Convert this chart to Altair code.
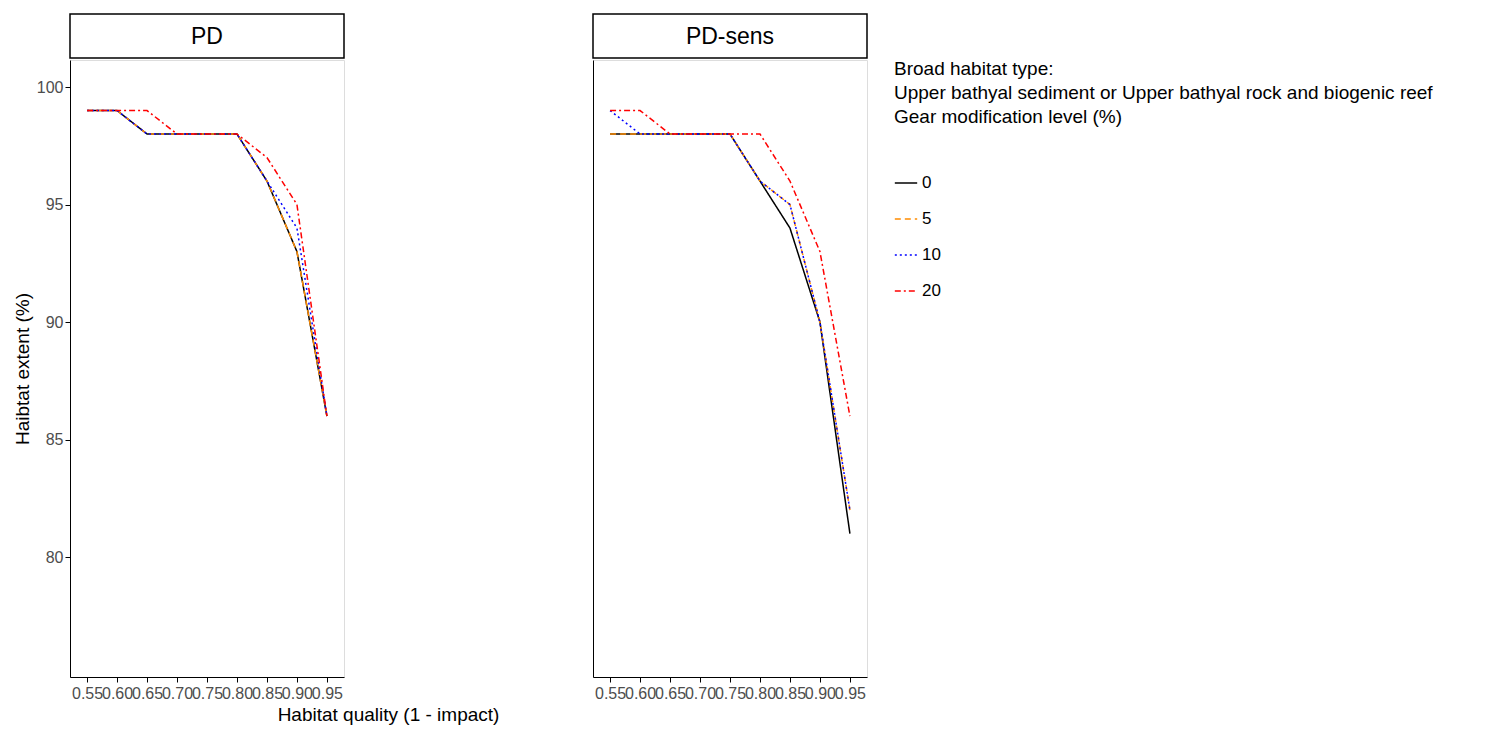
import altair as alt
import pandas as pd

quality = [0.55, 0.60, 0.65, 0.70, 0.75, 0.80, 0.85, 0.90, 0.95]
levels = ["0", "5", "10", "20"]
pd_vals = {
    "0":  [99, 99, 98, 98, 98, 98, 96, 93, 86],
    "5":  [99, 99, 98, 98, 98, 98, 96, 93, 86],
    "10": [99, 99, 98, 98, 98, 98, 96, 94, 86],
    "20": [99, 99, 99, 98, 98, 98, 97, 95, 86],
}
pdsens_vals = {
    "0":  [98, 98, 98, 98, 98, 96, 94, 90, 81],
    "5":  [98, 98, 98, 98, 98, 96, 95, 90, 82],
    "10": [99, 98, 98, 98, 98, 96, 95, 90, 82],
    "20": [99, 99, 98, 98, 98, 98, 96, 93, 86],
}

def frame(vals):
    rows = []
    for lv in levels:
        for q, v in zip(quality, vals[lv]):
            rows.append({"q": q, "v": v, "level": lv})
    return pd.DataFrame(rows)

W, H = 274, 617
legend_title = ["Broad habitat type:", "Upper bathyal sediment or Upper bathyal rock and biogenic reef", " ", "Gear modification level (%)"]
color = alt.Color("level:N", sort=levels,
                  scale=alt.Scale(domain=levels, range=["black", "darkorange", "blue", "red"]),
                  legend=alt.Legend(title=legend_title, orient="right", offset=25, padding=0,
                                    titleFontSize=19, labelFontSize=17, titleFontWeight="normal",
                                    titleColor="black", labelColor="black", symbolType="stroke",
                                    symbolSize=500, symbolStrokeWidth=1.5, rowPadding=16,
                                    titlePadding=20, titleLimit=1000, titleLineHeight=24))
dash = alt.StrokeDash("level:N", sort=levels,
                      scale=alt.Scale(domain=levels, range=[[1, 0], [6, 4], [2, 3], [6, 3, 2, 3]]),
                      legend=None)

def panel(vals, label, first):
    xax = alt.Axis(values=quality, format=".2f", title="Habitat quality (1 - impact)" if first else None,
                   titleX=318, labelFontSize=16, labelColor="#4d4d4d", titleFontSize=19,
                   titleFontWeight="normal", titleColor="black", grid=False, domainColor="black",
                   tickColor="black", labelOverlap=False, labelPadding=3, titlePadding=4)
    yax = alt.Axis(values=[80, 85, 90, 95, 100], title="Haibtat extent (%)" if first else None,
                   labels=first, labelFontSize=16, labelColor="#4d4d4d", titleFontSize=19,
                   titleFontWeight="normal", titleColor="black", grid=False,
                   domainColor="black", tickColor="black", ticks=first)
    lines = alt.Chart(frame(vals)).mark_line(strokeWidth=1.5).encode(
        x=alt.X("q:Q", scale=alt.Scale(domain=[0.5215, 0.9785], nice=False, zero=False), axis=xax),
        y=alt.Y("v:Q", scale=alt.Scale(domain=[74.9, 101.15], nice=False, zero=False), axis=yax),
        color=color, strokeDash=dash, order=alt.Order("q:Q"))
    strip_df = pd.DataFrame({"label": [label]})
    box = alt.Chart(strip_df).mark_rect(fill="white", stroke="black", strokeWidth=1.5).encode(
        x=alt.value(0), x2=alt.value(W), y=alt.value(-46), y2=alt.value(-2))
    txt = alt.Chart(strip_df).mark_text(fontSize=23, color="black").encode(
        x=alt.value(W / 2), y=alt.value(-23), text="label:N")
    return alt.layer(lines, box, txt).properties(width=W, height=H)

chart = alt.hconcat(panel(pd_vals, "PD", True), panel(pdsens_vals, "PD-sens", False), spacing=91
).configure_view(stroke="transparent", strokeWidth=0).configure(font="Liberation Sans"
).properties(padding={"top": 4, "left": 4, "right": 10, "bottom": 4})

chart.save("out.html", embed_options={"renderer": "svg", "actions": False})
